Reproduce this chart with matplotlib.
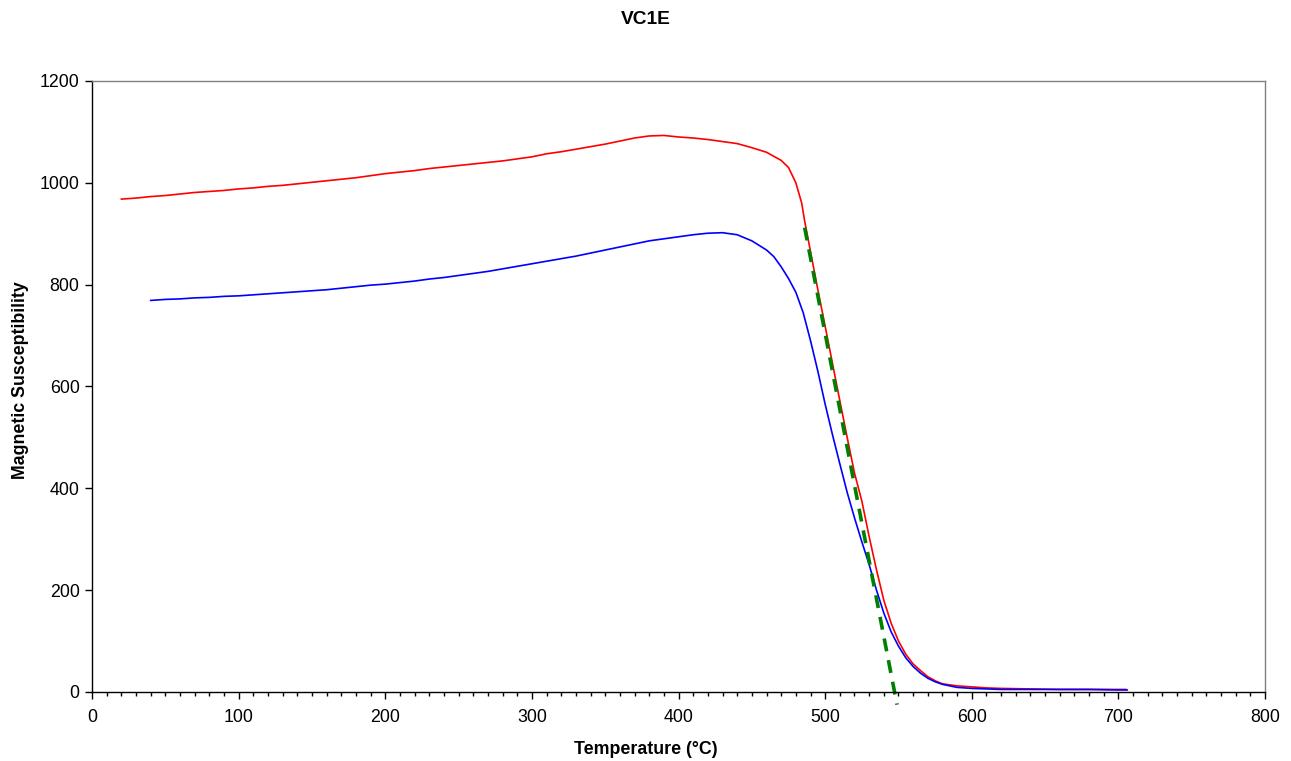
import matplotlib
matplotlib.use('Agg')
import matplotlib.pyplot as plt
from matplotlib.ticker import MultipleLocator

plt.rcParams['font.family'] = ['Liberation Sans', 'DejaVu Sans']

# heating curve (red)
heat_t = [20, 30, 40, 50, 60, 70, 80, 90, 100, 110, 120, 130, 140, 150, 160,
          170, 180, 190, 200, 210, 220, 230, 240, 250, 260, 270, 280, 290,
          300, 310, 320, 330, 340, 350, 360, 370, 380, 390, 400, 410, 420,
          430, 440, 450, 460, 470, 475, 480, 484, 486, 490, 495, 500, 505,
          510, 515, 520, 525, 530, 535, 540, 545, 550, 555, 560, 565, 570,
          575, 580, 590, 600, 610, 620, 640, 660, 680, 700, 705]
heat_k = [968, 970, 973, 975, 978, 981, 983, 985, 988, 990, 993, 995, 998,
          1001, 1004, 1007, 1010, 1014, 1018, 1021, 1024, 1028, 1031, 1034,
          1037, 1040, 1043, 1047, 1051, 1057, 1061, 1066, 1071, 1076, 1082,
          1088, 1092, 1093, 1090, 1088, 1085, 1081, 1077, 1069, 1060, 1044,
          1030, 1000, 960, 925, 865, 790, 718, 645, 572, 500, 430, 375, 305,
          240, 180, 135, 100, 74, 55, 42, 30, 22, 16, 12, 10, 8, 7, 6, 5, 5,
          5, 5]

# cooling curve (blue)
cool_t = [40, 50, 60, 70, 80, 90, 100, 110, 120, 130, 140, 150, 160, 170,
          180, 190, 200, 210, 220, 230, 240, 250, 260, 270, 280, 290, 300,
          310, 320, 330, 340, 350, 360, 370, 380, 390, 400, 410, 420, 430,
          440, 450, 460, 465, 470, 475, 480, 485, 490, 495, 500, 505, 510,
          515, 520, 525, 530, 535, 540, 545, 550, 555, 560, 565, 570, 575,
          580, 590, 600, 620, 640, 660, 680, 700, 706]
cool_k = [769, 771, 772, 774, 775, 777, 778, 780, 782, 784, 786, 788, 790,
          793, 796, 799, 801, 804, 807, 811, 814, 818, 822, 826, 831, 836,
          841, 846, 851, 856, 862, 868, 874, 880, 886, 890, 894, 898, 901,
          902, 898, 886, 868, 855, 835, 812, 785, 745, 690, 630, 565, 505,
          448, 392, 342, 295, 250, 200, 155, 118, 90, 67, 50, 37, 27, 20, 15,
          9, 7, 5, 5, 5, 5, 4, 4]

# Curie point tangent (green dashed)
tan_t = [486, 549]
tan_k = [912, -25]

fig = plt.figure(figsize=(12.91, 7.61), dpi=100)
ax = fig.add_axes([0.0713, 0.0907, 0.9086, 0.8029])

ax.plot(heat_t, heat_k, color='#FF0000', lw=1.2)
ax.plot(cool_t, cool_k, color='#0000FF', lw=1.2)
ax.plot(tan_t, tan_k, color='#008000', lw=2.6, dashes=(3.6, 2.5),
        clip_on=False)

ax.set_xlim(0, 800)
ax.set_ylim(0, 1200)
ax.xaxis.set_major_locator(MultipleLocator(100))
ax.xaxis.set_minor_locator(MultipleLocator(10))
ax.yaxis.set_major_locator(MultipleLocator(200))

ax.tick_params(axis='both', which='major', direction='out', length=5,
               width=1, labelsize=12.8, colors='black')
ax.tick_params(axis='x', which='minor', direction='out', length=3, width=1)
ax.tick_params(axis='x', pad=7)
ax.tick_params(axis='y', pad=4)

ax.spines['left'].set_color('black')
ax.spines['bottom'].set_color('black')
ax.spines['top'].set_color('#808080')
ax.spines['right'].set_color('#808080')
for s in ax.spines.values():
    s.set_linewidth(1)

fig.text(0.5, 0.974, 'VC1E', ha='center', va='center', fontsize=13.8,
         fontweight='bold')
fig.text(0.5, 0.0145, 'Temperature (°C)', ha='center', va='center',
         fontsize=12.8, fontweight='bold')
fig.text(0.0155, 0.5, 'Magnetic Susceptibility', ha='center', va='center',
         rotation=90, fontsize=12.8, fontweight='bold')

fig.savefig('out.png', dpi=100)
